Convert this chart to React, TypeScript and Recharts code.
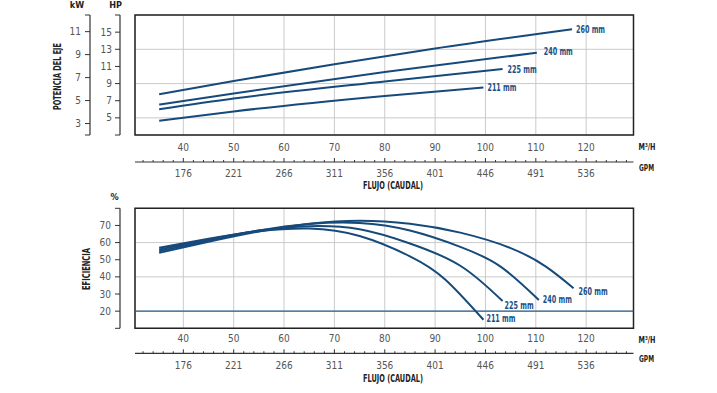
import React from "react";
import { LineChart, Line, XAxis, YAxis, CartesianGrid, ReferenceArea, ReferenceLine } from "recharts";

const FONT = "'Liberation Sans Narrow', 'DejaVu Sans Condensed', Roboto, sans-serif";
const CURVE = "#164a7b";
const TEXT_BLUE = "#1b4f85";
const GRID = "#cacaca";
const AXIS = "#333";
const TICK_TEXT = "#555";

// flow axis (m³/h) with matching GPM labels
const flowDomain = [30.4, 129.4];
const flowTicks = [40, 50, 60, 70, 80, 90, 100, 110, 120];
const gpmLabels = ["176", "221", "266", "311", "356", "401", "446", "491", "536"];
const gpmTicks = Array.from({ length: 49 }, (_, i) => 32 + i * 2);

const hpDomain = [3, 17];
const hpTicks = [3, 5, 7, 9, 11, 13, 15, 17];
const kwDomain = [2, 12.45];
const kwTicks = [2, 3, 5, 7, 9, 11, 12.45];
const effDomain = [10, 80];
const effTicks = [10, 20, 30, 40, 50, 60, 70, 80];

const impellers = ["211 mm", "225 mm", "240 mm", "260 mm"];

// shaft power (HP) vs flow
const power211 = [{ q: 35.2, v: 4.65 }, { q: 50, v: 5.75 }, { q: 80, v: 7.55 }, { q: 99.6, v: 8.55 }];
const power225 = [{ q: 35.2, v: 6.0 }, { q: 50, v: 7.25 }, { q: 80, v: 9.25 }, { q: 103.4, v: 10.7 }];
const power240 = [{ q: 35.2, v: 6.55 }, { q: 50, v: 7.85 }, { q: 80, v: 10.35 }, { q: 110.2, v: 12.6 }];
const power260 = [{ q: 35.2, v: 7.75 }, { q: 50, v: 9.3 }, { q: 70, v: 11.25 }, { q: 90, v: 13.1 }, { q: 117.2, v: 15.35 }];

// efficiency (%) vs flow
const eff211 = [
  { q: 35.2, v: 57 }, { q: 45, v: 62.2 }, { q: 55, v: 66.6 }, { q: 65, v: 68.2 },
  { q: 75, v: 63.8 }, { q: 85, v: 52 }, { q: 92, v: 38.5 }, { q: 99.6, v: 15 },
];
const eff225 = [
  { q: 35.2, v: 56 }, { q: 45, v: 61.8 }, { q: 55, v: 67 }, { q: 65, v: 69.6 },
  { q: 75, v: 67.8 }, { q: 85, v: 59.5 }, { q: 95, v: 46.5 }, { q: 103.4, v: 25.9 },
];
const eff240 = [
  { q: 35.2, v: 55 }, { q: 45, v: 61.2 }, { q: 55, v: 67 }, { q: 65, v: 70.8 },
  { q: 75, v: 71.4 }, { q: 85, v: 67 }, { q: 95, v: 57.5 }, { q: 103, v: 46 }, { q: 110.6, v: 26.5 },
];
const eff260 = [
  { q: 35.2, v: 54 }, { q: 45, v: 60.5 }, { q: 55, v: 66.5 }, { q: 65, v: 71 },
  { q: 75, v: 72.8 }, { q: 85, v: 71 }, { q: 95, v: 65.8 }, { q: 105, v: 56.8 }, { q: 112, v: 46 }, { q: 117.5, v: 33.4 },
];

const powerSeries = [power211, power225, power240, power260];
const effSeries = [eff211, eff225, eff240, eff260];
const powerLabelOffsets = [[4, 0], [5, 0], [7, -1], [4, 0]];
const effLabelOffsets = [[3, -1], [2, 4], [4, -1], [5, 3]];

const endLabel = (text: string, count: number, dx: number, dy: number) => (p: any) => {
  if (p.index !== count - 1) return <g />;
  const x = p.x ?? p.viewBox?.x;
  const y = p.y ?? p.viewBox?.y;
  return (
    <text x={x + dx} y={y + dy} fill={TEXT_BLUE} fontSize={10} fontWeight="bold" fontFamily={FONT}
      dominantBaseline="central" textLength={29} lengthAdjust="spacingAndGlyphs">
      {text}
    </text>
  );
};
const powerLabels = powerSeries.map((s, i) => endLabel(impellers[i], s.length, powerLabelOffsets[i][0], powerLabelOffsets[i][1]));
const effLabels = effSeries.map((s, i) => endLabel(impellers[i], s.length, effLabelOffsets[i][0], effLabelOffsets[i][1]));

const makeFlowTick = (dy: number) => ({ x, y, payload }: any) => (
  <text x={x} y={y + dy} textAnchor="middle" dominantBaseline="central" fill={TICK_TEXT} fontSize={10} fontFamily={FONT}>
    {payload.value}
  </text>
);
const makeGpmTick = (dy: number) => ({ x, y, payload }: any) => {
  const i = flowTicks.indexOf(payload.value);
  const major = i >= 0;
  return (
    <g>
      <line x1={x} x2={x} y1={y} y2={y - (major ? 4 : 2)} stroke={AXIS} strokeWidth={1} />
      {major && (
        <text x={x} y={y + dy} textAnchor="middle" dominantBaseline="central" fill={TICK_TEXT} fontSize={10} fontFamily={FONT}>
          {gpmLabels[i]}
        </text>
      )}
    </g>
  );
};
const flowTickTop = makeFlowTick(12);
const flowTickBottom = makeFlowTick(10.5);
const gpmTickTop = makeGpmTick(11);
const gpmTickBottom = makeGpmTick(12);

const hpFormat = (v: number) => (v >= 5 && v <= 15 ? String(v) : "");
const kwFormat = (v: number) => (Number.isInteger(v) && v >= 3 ? String(v) : "");
const effFormat = (v: number) => (v >= 20 && v <= 70 ? String(v) : "");

const tickStyle = { fill: TICK_TEXT, fontSize: 10, fontFamily: FONT };
const axisLineStyle = { stroke: AXIS, strokeWidth: 1.2 };
const tickLineStyle = { stroke: AXIS };

const Layer = ({ top, height, margin, children }: any) => (
  <div style={{ position: "absolute", left: 0, top }}>
    <LineChart width={717} height={height} margin={margin}>
      {children}
    </LineChart>
  </div>
);

const YScaleAxis = ({ domain, ticks, format, margin }: any) => (
  <YAxis yAxisId="y" width={30} type="number" domain={domain} ticks={ticks} interval={0} allowDataOverflow
    axisLine={axisLineStyle} tickLine={tickLineStyle} tickSize={5} tickMargin={margin}
    tickFormatter={format} tick={tickStyle} />
);

export default function App() {
  return (
    <div style={{ position: "absolute", left: 0, top: 0, width: 717, height: 393, background: "#fff" }}>
      {/* top panel: shaft power */}
      <Layer top={0} height={195} margin={{ top: 15, right: 83.5, left: 135, bottom: 33 }}>
        <CartesianGrid xAxisId="x" yAxisId="y" stroke={GRID} strokeWidth={1} />
        <XAxis xAxisId="x" dataKey="q" type="number" domain={flowDomain} ticks={flowTicks} interval={0}
          allowDataOverflow height={27} axisLine={false} tickLine={false} tickSize={0} tickMargin={0} tick={flowTickTop} />
        <YAxis yAxisId="y" hide type="number" domain={hpDomain} ticks={hpTicks} allowDataOverflow />
        <ReferenceArea xAxisId="x" yAxisId="y" x1={flowDomain[0]} x2={flowDomain[1]} y1={hpDomain[0]} y2={hpDomain[1]}
          fill="none" fillOpacity={0} stroke="#222" strokeWidth={1.5} ifOverflow="visible" />
        {powerSeries.map((s, i) => (
          <Line key={impellers[i]} xAxisId="x" yAxisId="y" data={s} dataKey="v" type="monotone"
            stroke={CURVE} strokeWidth={2} dot={false} isAnimationActive={false} label={powerLabels[i]} />
        ))}
      </Layer>
      <Layer top={0} height={195} margin={{ top: 15, right: 83.5, left: 90, bottom: 60 }}>
        <XAxis xAxisId="x" hide type="number" domain={flowDomain} />
        <YScaleAxis domain={hpDomain} ticks={hpTicks} format={hpFormat} margin={3} />
      </Layer>
      <Layer top={0} height={195} margin={{ top: 15, right: 83.5, left: 60, bottom: 60 }}>
        <XAxis xAxisId="x" hide type="number" domain={flowDomain} />
        <YAxis yAxisId="y" width={30} type="number" domain={kwDomain} ticks={kwTicks} interval={0} allowDataOverflow
          axisLine={axisLineStyle} tickLine={tickLineStyle} tickSize={5} tickMargin={4}
          tickFormatter={kwFormat} tick={tickStyle} />
      </Layer>
      <Layer top={0} height={195} margin={{ top: 15, right: 83.5, left: 135, bottom: 3 }}>
        <YAxis yAxisId="y" hide type="number" domain={hpDomain} />
        <XAxis xAxisId="x" dataKey="q" type="number" domain={flowDomain} ticks={gpmTicks} interval={0}
          allowDataOverflow height={30} axisLine={axisLineStyle} tickLine={false} tickSize={0} tickMargin={0} tick={gpmTickTop} />
      </Layer>

      {/* bottom panel: efficiency */}
      <Layer top={193} height={200} margin={{ top: 15.3, right: 83.5, left: 135, bottom: 39.7 }}>
        <CartesianGrid xAxisId="x" yAxisId="y" stroke={GRID} strokeWidth={1} />
        <XAxis xAxisId="x" dataKey="q" type="number" domain={flowDomain} ticks={flowTicks} interval={0}
          allowDataOverflow height={25} axisLine={false} tickLine={false} tickSize={0} tickMargin={0} tick={flowTickBottom} />
        <YAxis yAxisId="y" hide type="number" domain={effDomain} ticks={effTicks} allowDataOverflow />
        <ReferenceArea xAxisId="x" yAxisId="y" x1={flowDomain[0]} x2={flowDomain[1]} y1={effDomain[0]} y2={effDomain[1]}
          fill="none" fillOpacity={0} stroke="#222" strokeWidth={1.5} ifOverflow="visible" />
        <ReferenceLine xAxisId="x" yAxisId="y" y={20} stroke="#2b5e91" strokeWidth={1.3} />
        {effSeries.map((s, i) => (
          <Line key={impellers[i]} xAxisId="x" yAxisId="y" data={s} dataKey="v" type="natural"
            stroke={CURVE} strokeWidth={2} dot={false} isAnimationActive={false} label={effLabels[i]} />
        ))}
      </Layer>
      <Layer top={193} height={200} margin={{ top: 15.3, right: 83.5, left: 90, bottom: 64.7 }}>
        <XAxis xAxisId="x" hide type="number" domain={flowDomain} />
        <YScaleAxis domain={effDomain} ticks={effTicks} format={effFormat} margin={4} />
      </Layer>
      <Layer top={193} height={200} margin={{ top: 15.3, right: 83.5, left: 135, bottom: 9.7 }}>
        <YAxis yAxisId="y" hide type="number" domain={effDomain} />
        <XAxis xAxisId="x" dataKey="q" type="number" domain={flowDomain} ticks={gpmTicks} interval={0}
          allowDataOverflow height={30} axisLine={axisLineStyle} tickLine={false} tickSize={0} tickMargin={0} tick={gpmTickBottom} />
      </Layer>

      <svg width={717} height={393} style={{ position: "absolute", left: 0, top: 0, pointerEvents: "none" }}
        fontFamily={FONT} fontWeight="bold" fill="#222">
        <text x={77} y={5} fontSize={9} textAnchor="middle" dominantBaseline="central">kW</text>
        <text x={115.5} y={5} fontSize={9} textAnchor="middle" dominantBaseline="central">HP</text>
        <text x={0} y={0} fontSize={10} textAnchor="middle" dominantBaseline="central" textLength={67}
          lengthAdjust="spacingAndGlyphs" transform="translate(57.5,76.5) rotate(-90)">POTENCIA DEL EJE</text>
        <text x={647} y={147} fontSize={9} textAnchor="middle" dominantBaseline="central" textLength={17} lengthAdjust="spacingAndGlyphs">M³/H</text>
        <text x={646.5} y={168} fontSize={9} textAnchor="middle" dominantBaseline="central" textLength={15} lengthAdjust="spacingAndGlyphs">GPM</text>
        <text x={393} y={185} fontSize={10} textAnchor="middle" dominantBaseline="central" textLength={60} lengthAdjust="spacingAndGlyphs">FLUJO (CAUDAL)</text>
        <text x={114.5} y={197} fontSize={9} textAnchor="middle" dominantBaseline="central">%</text>
        <text x={0} y={0} fontSize={10} textAnchor="middle" dominantBaseline="central" textLength={42}
          lengthAdjust="spacingAndGlyphs" transform="translate(86.5,269) rotate(-90)">EFICIENCIA</text>
        <text x={647} y={340} fontSize={9} textAnchor="middle" dominantBaseline="central" textLength={17} lengthAdjust="spacingAndGlyphs">M³/H</text>
        <text x={646.5} y={359} fontSize={9} textAnchor="middle" dominantBaseline="central" textLength={15} lengthAdjust="spacingAndGlyphs">GPM</text>
        <text x={393} y={378} fontSize={10} textAnchor="middle" dominantBaseline="central" textLength={60} lengthAdjust="spacingAndGlyphs">FLUJO (CAUDAL)</text>
      </svg>
    </div>
  );
}
